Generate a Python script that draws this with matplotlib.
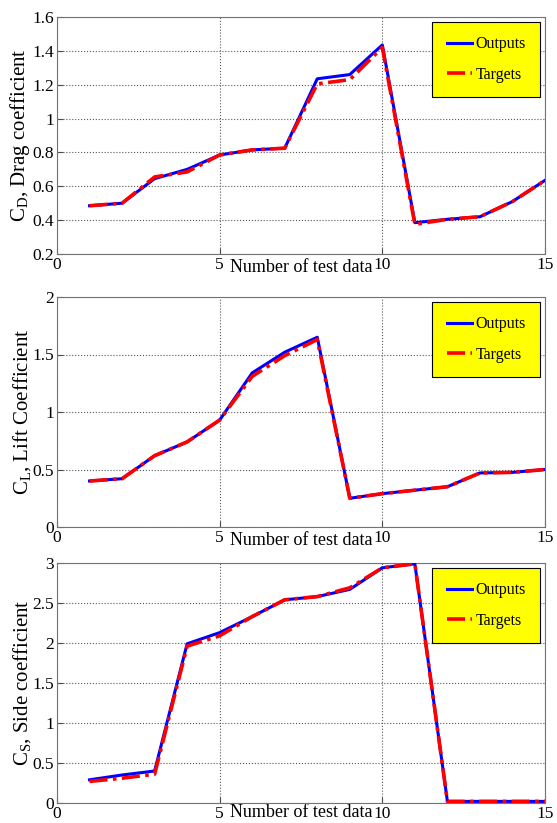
import matplotlib
matplotlib.use("Agg")
import matplotlib.pyplot as plt

plt.rcParams['font.family'] = ['Liberation Serif', 'DejaVu Serif']
plt.rcParams['mathtext.fontset'] = 'custom'
plt.rcParams['mathtext.rm'] = 'Liberation Serif'
plt.rcParams['mathtext.it'] = 'Liberation Serif:italic'

x_data = list(range(1, 16))

cd_outputs = [0.485, 0.50, 0.645, 0.70, 0.785, 0.815, 0.825, 1.235, 1.26, 1.435, 0.385, 0.405, 0.42, 0.51, 0.635]
cd_targets = [0.485, 0.50, 0.655, 0.685, 0.785, 0.815, 0.825, 1.205, 1.23, 1.42, 0.375, 0.405, 0.42, 0.51, 0.635]

cl_outputs = [0.40, 0.42, 0.62, 0.74, 0.93, 1.34, 1.52, 1.65, 0.25, 0.29, 0.32, 0.35, 0.47, 0.475, 0.50]
cl_targets = [0.40, 0.42, 0.62, 0.74, 0.93, 1.31, 1.49, 1.63, 0.25, 0.29, 0.32, 0.35, 0.47, 0.475, 0.50]

cs_outputs = [0.29, 0.35, 0.40, 1.99, 2.13, 2.33, 2.54, 2.58, 2.67, 2.94, 2.99, 0.02, 0.02, 0.02, 0.02]
cs_targets = [0.27, 0.31, 0.36, 1.96, 2.09, 2.33, 2.54, 2.58, 2.69, 2.94, 2.99, 0.02, 0.02, 0.02, 0.02]

x_ticks = [0, 5, 10, 15]
cd_yticks = [0.2, 0.4, 0.6, 0.8, 1.0, 1.2, 1.4, 1.6]
cd_ylabels = ['0.2', '0.4', '0.6', '0.8', '1', '1.2', '1.4', '1.6']
cl_yticks = [0, 0.5, 1.0, 1.5, 2.0]
cl_ylabels = ['0', '0.5', '1', '1.5', '2']
cs_yticks = [0, 0.5, 1.0, 1.5, 2.0, 2.5, 3.0]
cs_ylabels = ['0', '0.5', '1', '1.5', '2', '2.5', '3']

ylabels = [r'$\mathrm{C_D}$, Drag coefficient', r'$\mathrm{C_L}$, Lift Coefficient', r'$\mathrm{C_S}$, Side coefficient']

fig = plt.figure(figsize=(5.57, 8.23), dpi=100)
W, H = 557, 823
boxes = [(57, 17, 545, 254), (57, 297, 545, 527), (57, 563, 545, 803)]
datasets = [(cd_outputs, cd_targets, cd_yticks, cd_ylabels, (0.2, 1.6)),
            (cl_outputs, cl_targets, cl_yticks, cl_ylabels, (0, 2)),
            (cs_outputs, cs_targets, cs_yticks, cs_ylabels, (0, 3))]

for i, ((l, t, r, b), (out, tgt, yt, yl, ylim), lab) in enumerate(zip(boxes, datasets, ylabels)):
    ax = fig.add_axes([l / W, 1 - b / H, (r - l) / W, (b - t) / H])
    ax.plot(x_data, out, color='#0000ff', lw=2.2, label='Outputs', zorder=3)
    ax.plot(x_data, tgt, color='#ff0000', lw=2.6, linestyle=(0, (5, 1.5, 1, 1.5)), label='Targets', zorder=4)
    ax.set_xlim(0, 15)
    ax.set_ylim(*ylim)
    ax.set_xticks(x_ticks)
    ax.set_xticklabels([str(v) for v in x_ticks])
    ax.set_yticks(yt)
    ax.set_yticklabels(yl)
    ax.grid(True, linestyle=':', color='0.35', lw=0.8)
    ax.tick_params(direction='in', length=4, labelsize=12.5, pad=2, color='0.3')
    for s in ax.spines.values():
        s.set_color('0.45')
        s.set_linewidth(0.8)
    ax.set_xlabel('Number of test data', fontsize=13, labelpad=(-13 if i == 2 else -10))
    ax.set_ylabel(lab, fontsize=15, labelpad=0)
    leg = ax.legend(loc='upper right', fontsize=11.5, facecolor='#ffff00', edgecolor='black',
                    framealpha=1, fancybox=False, labelspacing=0.9, handlelength=1.6,
                    handletextpad=0.2, borderpad=0.9, borderaxespad=0.3)
    leg.get_frame().set_linewidth(0.8)

fig.savefig('out.png', dpi=100)
